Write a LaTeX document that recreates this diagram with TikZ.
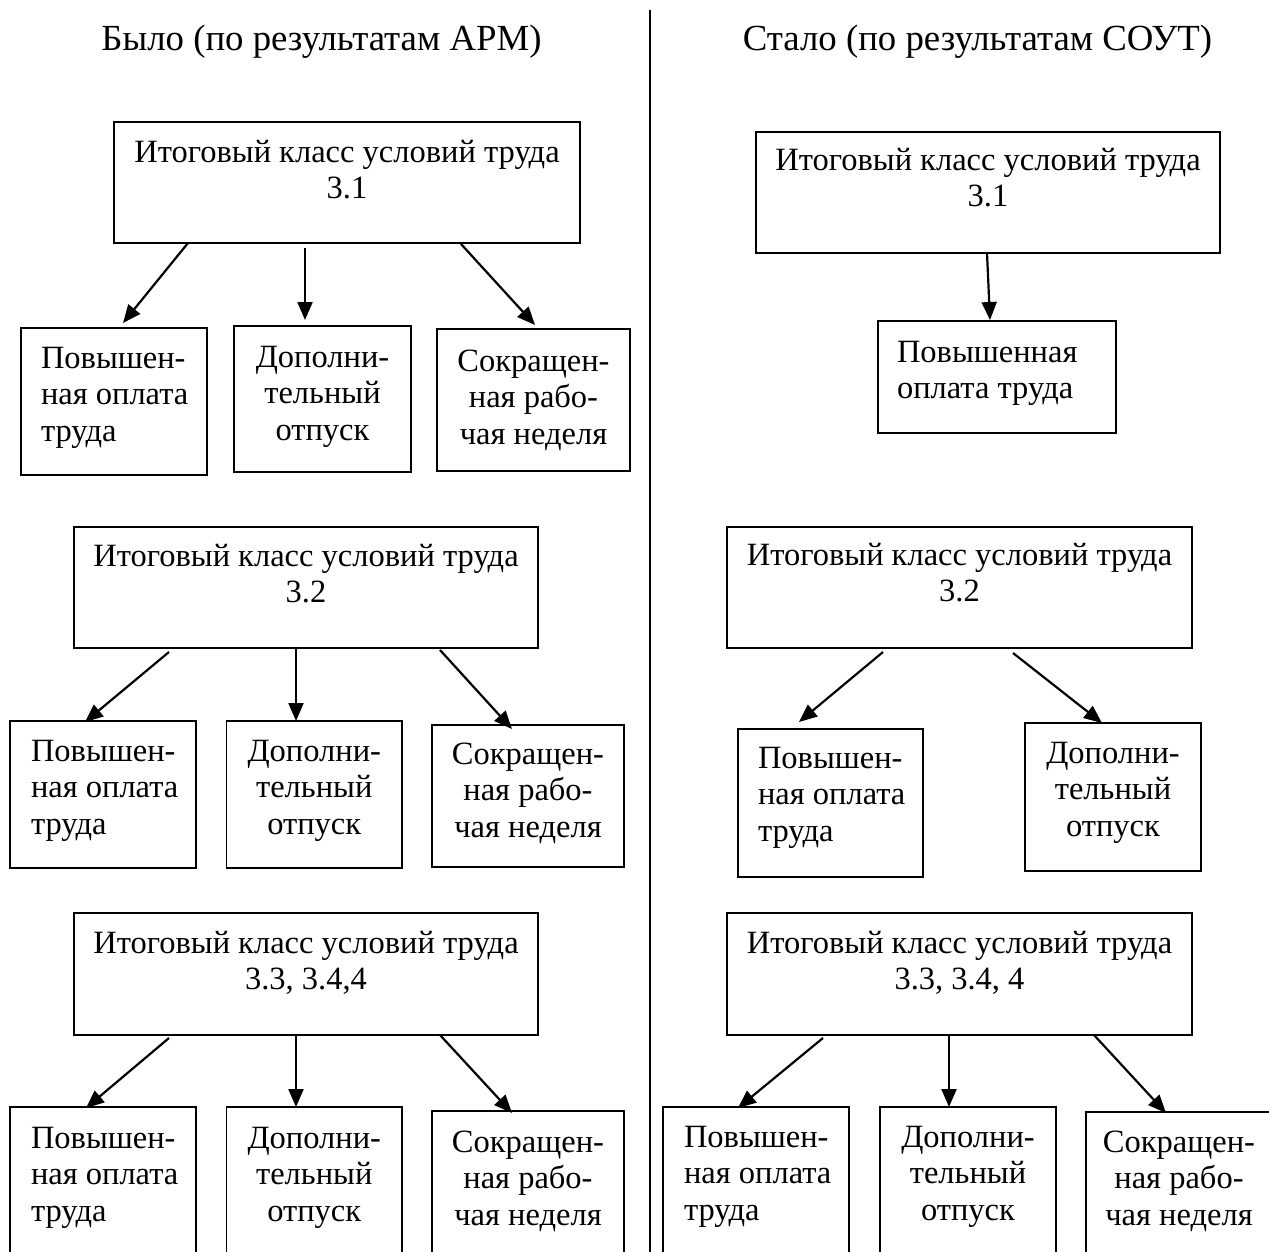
\documentclass[tikz,border=0pt]{standalone}
\usepackage{fontspec}
\setmainfont{Liberation Serif}
\usetikzlibrary{arrows.meta}
\tikzset{
  box/.style={draw, line width=1.3pt, inner sep=0pt, outer sep=0pt, anchor=north west},
  arr/.style={line width=2.2pt, -{Triangle[length=18pt,width=15pt]}},
  ctr/.style={inner sep=0pt, outer sep=0pt, anchor=base},
  lft/.style={inner sep=0pt, outer sep=0pt, anchor=base west},
  divider/.style={line width=1.5pt},
}
\newcommand{\boxfont}{\fontsize{32.5pt}{36.7pt}\selectfont}
\newcommand{\titlefont}{\fontsize{36.8pt}{40pt}\selectfont}
\newcommand{\ctxt}[1]{\parbox[t]{460pt}{\centering\boxfont #1}}
\newcommand{\ltxt}[1]{\parbox[t]{230pt}{\raggedright\boxfont #1}}
\begin{document}
\begin{tikzpicture}[x=1pt,y=-1pt]
\path[use as bounding box, clip] (0,0) rectangle (1269,1251);
% titles and divider
\node[ctr] (tL) at (321.5,50) {\titlefont Было (по результатам АРМ)};
\node[ctr] (tR) at (977.5,50) {\titlefont Стало (по результатам СОУТ)};
\coordinate (dtop) at (650,10);
\coordinate (dbot) at (650,1260);
\draw[divider] (dtop) -- (dbot);

% ---------- left, group 1 ----------
\node[box, minimum width=466pt, minimum height=121pt] (L1) at (114,122) {};
\node[box, minimum width=186pt, minimum height=147pt] (L1a) at (21,328) {};
\node[box, minimum width=177pt, minimum height=146pt] (L1b) at (234,326) {};
\node[box, minimum width=193pt, minimum height=142pt] (L1c) at (437,329) {};
\node[ctr] (L1t) at ([yshift=-40pt]L1.north) {\ctxt{Итоговый класс условий труда\\3.1}};
\node[lft] (L1at) at ([xshift=20pt,yshift=-40pt]L1a.north west) {\ltxt{Повышен-\\ная оплата\\труда}};
\node[ctr] (L1bt) at ([yshift=-41pt]L1b.north) {\ctxt{Дополни-\\тельный\\отпуск}};
\node[ctr] (L1ct) at ([yshift=-42pt]L1c.north) {\ctxt{Сокращен-\\ная рабо-\\чая неделя}};
\draw[arr] ([xshift=74pt]L1.south west) -- ([xshift=102pt,yshift=5pt]L1a.north west);
\draw[arr] ([xshift=191pt,yshift=-5pt]L1.south west) -- ([xshift=71pt,yshift=6pt]L1b.north west);
\draw[arr] ([xshift=347pt,yshift=-1pt]L1.south west) -- ([xshift=98pt,yshift=4pt]L1c.north west);

% ---------- left, group 2 ----------
\node[box, minimum width=464pt, minimum height=121pt] (L2) at (74,527) {};
\node[box, minimum width=186pt, minimum height=147pt] (L2a) at (10,721) {};
\node[box, minimum width=175.5pt, minimum height=147pt] (L2b) at (226.5,721) {};
\node[box, minimum width=192pt, minimum height=142pt] (L2c) at (432,725) {};
\node[ctr] (L2t) at ([yshift=-39pt]L2.north) {\ctxt{Итоговый класс условий труда\\3.2}};
\node[lft] (L2at) at ([xshift=21pt,yshift=-40pt]L2a.north west) {\ltxt{Повышен-\\ная оплата\\труда}};
\node[ctr] (L2bt) at ([yshift=-40pt]L2b.north) {\ctxt{Дополни-\\тельный\\отпуск}};
\node[ctr] (L2ct) at ([yshift=-39pt]L2c.north) {\ctxt{Сокращен-\\ная рабо-\\чая неделя}};
\draw[arr] ([xshift=95pt,yshift=-4pt]L2.south west) -- ([xshift=75pt,yshift=-1pt]L2a.north west);
\draw[arr] ([xshift=222pt,yshift=-1pt]L2.south west) -- ([xshift=69.5pt]L2b.north west);
\draw[arr] ([xshift=366pt,yshift=-2pt]L2.south west) -- ([xshift=80pt,yshift=-4pt]L2c.north west);

% ---------- left, group 3 ----------
\node[box, minimum width=464pt, minimum height=122pt] (L3) at (74,913) {};
\node[box, minimum width=186pt, minimum height=170pt] (L3a) at (10,1107) {};
\node[box, minimum width=175.5pt, minimum height=170pt] (L3b) at (226.5,1107) {};
\node[box, minimum width=192pt, minimum height=170pt] (L3c) at (432,1111) {};
\node[ctr] (L3t) at ([yshift=-40pt]L3.north) {\ctxt{Итоговый класс условий труда\\3.3, 3.4,4}};
\node[lft] (L3at) at ([xshift=21pt,yshift=-41pt]L3a.north west) {\ltxt{Повышен-\\ная оплата\\труда}};
\node[ctr] (L3bt) at ([yshift=-41pt]L3b.north) {\ctxt{Дополни-\\тельный\\отпуск}};
\node[ctr] (L3ct) at ([yshift=-41pt]L3c.north) {\ctxt{Сокращен-\\ная рабо-\\чая неделя}};
\draw[arr] ([xshift=95pt,yshift=-3pt]L3.south west) -- ([xshift=76pt,yshift=-1pt]L3a.north west);
\draw[arr] ([xshift=222pt]L3.south west) -- ([xshift=69.5pt]L3b.north west);
\draw[arr] ([xshift=366pt]L3.south west) -- ([xshift=80pt,yshift=-2pt]L3c.north west);

% ---------- right, group 1 ----------
\node[box, minimum width=464pt, minimum height=121pt] (R1) at (756,132) {};
\node[box, minimum width=238pt, minimum height=112pt] (R1a) at (878,321) {};
\node[ctr] (R1t) at ([yshift=-38pt]R1.north) {\ctxt{Итоговый класс условий труда\\3.1}};
\node[lft] (R1at) at ([xshift=19pt,yshift=-41pt]R1a.north west) {\ltxt{Повышенная\\оплата труда}};
\draw[arr] ([xshift=231pt]R1.south west) -- ([xshift=112pt,yshift=1pt]R1a.north west);

% ---------- right, group 2 ----------
\node[box, minimum width=185pt, minimum height=148pt] (R2a) at (738,729) {};
\node[box, minimum width=465pt, minimum height=121pt] (R2) at (727,527) {};
\node[box, minimum width=176pt, minimum height=148pt] (R2b) at (1025,723) {};
\node[ctr] (R2t) at ([yshift=-38pt]R2.north) {\ctxt{Итоговый класс условий труда\\3.2}};
\node[lft] (R2at) at ([xshift=20pt,yshift=-39pt]R2a.north west) {\ltxt{Повышен-\\ная оплата\\труда}};
\node[ctr] (R2bt) at ([yshift=-40pt]R2b.north) {\ctxt{Дополни-\\тельный\\отпуск}};
\draw[arr] ([xshift=156pt,yshift=-4pt]R2.south west) -- ([xshift=61pt,yshift=7pt]R2a.north west);
\draw[arr] ([xshift=286pt,yshift=-5pt]R2.south west) -- ([xshift=77pt]R2b.north west);

% ---------- right, group 3 ----------
\node[box, minimum width=465pt, minimum height=122pt] (R3) at (727,913) {};
\node[box, minimum width=186pt, minimum height=170pt] (R3a) at (663,1107) {};
\node[box, minimum width=176pt, minimum height=170pt] (R3b) at (880,1107) {};
\node[box, minimum width=186pt, minimum height=170pt] (R3c) at (1086,1112) {};
\node[ctr] (R3t) at ([yshift=-40pt]R3.north) {\ctxt{Итоговый класс условий труда\\3.3, 3.4, 4}};
\node[lft] (R3at) at ([xshift=21pt,yshift=-40pt]R3a.north west) {\ltxt{Повышен-\\ная оплата\\труда}};
\node[ctr] (R3bt) at ([yshift=-40pt]R3b.north) {\ctxt{Дополни-\\тельный\\отпуск}};
\node[ctr] (R3ct) at ([yshift=-40pt]R3c.north) {\ctxt{Сокращен-\\ная рабо-\\чая неделя}};
\draw[arr] ([xshift=96pt,yshift=-3pt]R3.south west) -- ([xshift=75pt,yshift=-1pt]R3a.north west);
\draw[arr] ([xshift=222pt]R3.south west) -- ([xshift=69pt]R3b.north west);
\draw[arr] ([xshift=367pt]R3.south west) -- ([xshift=80pt,yshift=-1pt]R3c.north west);
\end{tikzpicture}
\end{document}
